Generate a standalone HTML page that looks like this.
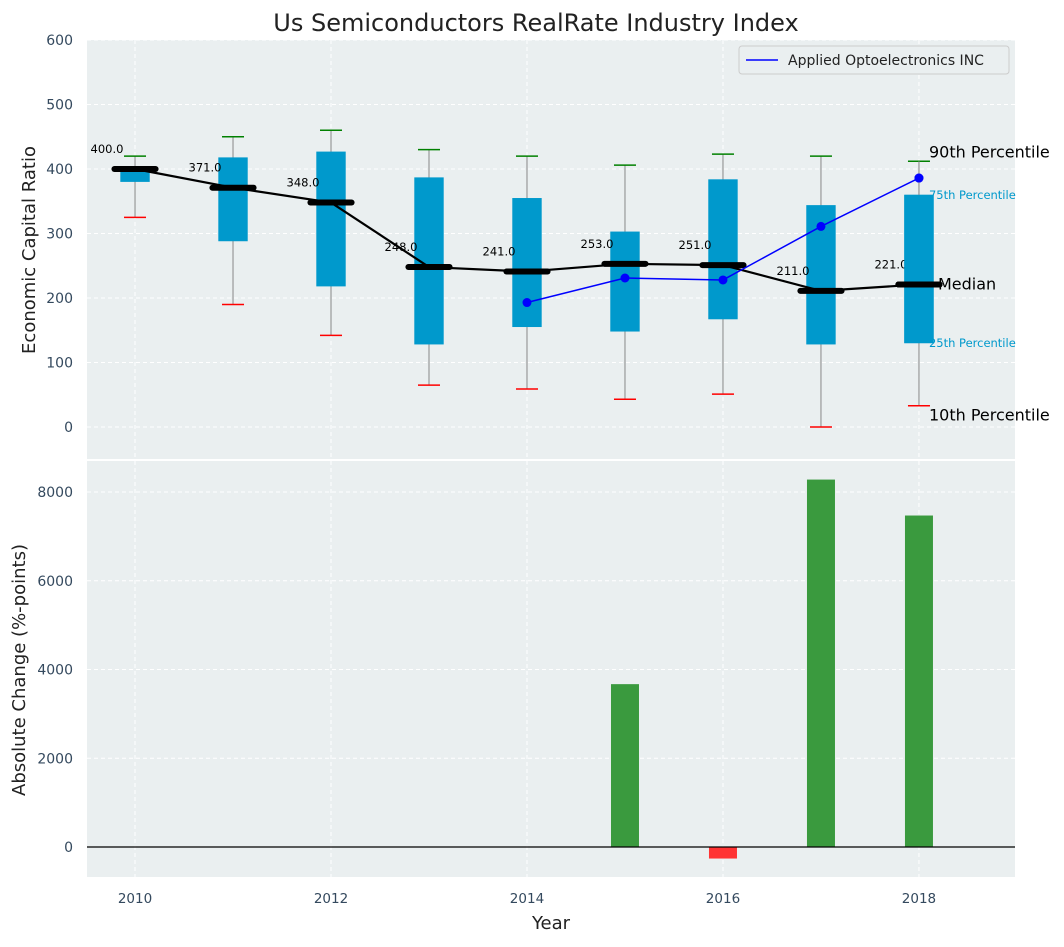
<!DOCTYPE html>
<html><head><meta charset="utf-8"><style>
body{margin:0;background:#fff;font-family:"Liberation Sans","DejaVu Sans",sans-serif}
</style></head><body>
<svg id="c" width="1064" height="942" xmlns="http://www.w3.org/2000/svg" font-family="DejaVu Sans, Liberation Sans, sans-serif"></svg>
<script>
const years=[2010,2011,2012,2013,2014,2015,2016,2017,2018];
const p10=[325,190,142,65,59,43,51,0,33];
const p25=[380,288,218,128,155,148,167,128,130];
const median=[400,371,348,248,241,253,251,211,221];
const p75=[400,418,427,387,355,303,384,344,360];
const p90=[420,450,460,430,420,406,423,420,412];
const company=[null,null,null,null,193,231,228,311,386];
const changeValues=[0,0,0,0,0,3670,-260,8280,7470];
const topTicks=[0,100,200,300,400,500,600];
const bottomTicks=[0,2000,4000,6000,8000];
const xTicks=[2010,2012,2014,2016,2018];

const svg=document.getElementById('c');
const NS='http://www.w3.org/2000/svg';
function el(t,a,parent){const e=document.createElementNS(NS,t);for(const k in a)e.setAttribute(k,a[k]);(parent||svg).appendChild(e);return e;}
const L=87,R=1015;
const x=v=>L+(v-2009.51)/(2018.98-2009.51)*(R-L);
const yT=v=>427-v*(387/600);
const yB=v=>847-v*(355/8000);

let e=el('rect',{x:L,y:40,width:R-L,height:419,fill:'#eaeff0'});


e=el('rect',{x:L,y:461,width:R-L,height:416,fill:'#eaeff0'});


xTicks.forEach(t=>{
 el('line',{x1:x(t),x2:x(t),y1:40,y2:459,stroke:'#fff','stroke-dasharray':'4,3'});
 el('line',{x1:x(t),x2:x(t),y1:461,y2:877,stroke:'#fff','stroke-dasharray':'4,3'});
 e=el('text',{x:x(t),y:903,'text-anchor':'middle','font-size':13.5,fill:'#34495e'});e.textContent=t;
 
 
});
topTicks.forEach(t=>{
 el('line',{x1:L,x2:R,y1:yT(t),y2:yT(t),stroke:'#fff','stroke-dasharray':'4,3'});
 e=el('text',{x:73,y:yT(t)+5,'text-anchor':'end','font-size':14,fill:'#34495e'});e.textContent=t;
 
 
});
bottomTicks.forEach(t=>{
 el('line',{x1:L,x2:R,y1:yB(t),y2:yB(t),stroke:'#fff','stroke-dasharray':'4,3'});
 e=el('text',{x:73,y:yB(t)+5,'text-anchor':'end','font-size':14,fill:'#34495e'});e.textContent=t;
 
 
});
const bw=0.3*98, mw=0.42*98, cw=22;
years.forEach((yr,i)=>{
 const cx=x(yr);
 el('line',{x1:cx,x2:cx,y1:yT(p90[i]),y2:yT(p10[i]),stroke:'#888','stroke-width':1});
 e=el('rect',{x:cx-bw/2,y:yT(p75[i]),width:bw,height:yT(p25[i])-yT(p75[i]),fill:'#0099cc'});
 
 
 el('line',{x1:cx-cw/2,x2:cx+cw/2,y1:yT(p90[i]),y2:yT(p90[i]),stroke:'green','stroke-width':1.5});
 el('line',{x1:cx-cw/2,x2:cx+cw/2,y1:yT(p10[i]),y2:yT(p10[i]),stroke:'red','stroke-width':1.5});
});
el('polyline',{points:years.map((yr,i)=>x(yr)+','+yT(median[i])).join(' '),fill:'none',stroke:'#000','stroke-width':2.2});
years.forEach((yr,i)=>{
 const cx=x(yr);
 e=el('line',{x1:cx-mw/2,x2:cx+mw/2,y1:yT(median[i]),y2:yT(median[i]),stroke:'#000','stroke-width':6,'stroke-linecap':'round'});
 
 
 e=el('text',{x:cx-28,y:yT(median[i])-16,'text-anchor':'middle','font-size':11.5,fill:'#000'});e.textContent=median[i].toFixed(1);
 
 
});
const pts=[];years.forEach((yr,i)=>{if(company[i]!==null)pts.push([x(yr),yT(company[i])]);});
e=el('polyline',{points:pts.map(p=>p.join(',')).join(' '),fill:'none',stroke:'blue','stroke-width':1.5});


pts.forEach(p=>{e=el('circle',{cx:p[0],cy:p[1],r:4.5,fill:'blue'});
 
 });
const lx=x(2018);
[['90th Percentile',p90[8],16,'#000',10,-4],['75th Percentile',p75[8],11.5,'#0099cc',10,4],['Median',median[8],16,'#000',19,5],['25th Percentile',p25[8],11.5,'#0099cc',10,4],['10th Percentile',p10[8],16,'#000',10,15]].forEach(a=>{
 e=el('text',{x:lx+a[4],y:yT(a[1])+a[5],'font-size':a[2],fill:a[3]});e.textContent=a[0];
 
 
});
el('rect',{x:lx-bw/2,y:yT(p75[8]),width:bw,height:yT(p25[8])-yT(p75[8]),fill:'#0099cc'});
el('line',{x1:lx,x2:lx,y1:yT(p90[8]),y2:yT(p75[8]),stroke:'#888','stroke-width':1});
el('line',{x1:lx-mw/2,x2:lx+mw/2,y1:yT(median[8]),y2:yT(median[8]),stroke:'#000','stroke-width':6,'stroke-linecap':'round'});
el('circle',{cx:lx,cy:yT(company[8]),r:4.5,fill:'blue'});
years.forEach((yr,i)=>{
 const v=changeValues[i];if(!v)return;
 const y0=yB(0),y1=yB(v);
 e=el('rect',{x:x(yr)-14,y:Math.min(y0,y1),width:28,height:Math.abs(y1-y0),fill:v>0?'#3a9a3e':'#ff3333'});
 
 
});
el('line',{x1:L,x2:R,y1:yB(0),y2:yB(0),stroke:'#000','stroke-width':1.2});
e=el('g',{});
el('rect',{x:739,y:46,width:270,height:28,rx:3,fill:'#eaeff0',stroke:'#ccc'},e);
el('line',{x1:746,x2:778,y1:60,y2:60,stroke:'blue','stroke-width':1.5},e);
let t=el('text',{x:788,y:65,'font-size':14,fill:'#222'},e);t.textContent='Applied Optoelectronics INC';
e=el('text',{x:536,y:31,'text-anchor':'middle','font-size':24,fill:'#222'});e.textContent='Us Semiconductors RealRate Industry Index';

e=el('text',{x:0,y:0,'text-anchor':'middle','font-size':18,fill:'#222',transform:'translate(35,250) rotate(-90)'});e.textContent='Economic Capital Ratio';

e=el('text',{x:0,y:0,'text-anchor':'middle','font-size':18,fill:'#222',transform:'translate(25,670) rotate(-90)'});e.textContent='Absolute Change (%-points)';

e=el('text',{x:551,y:929,'text-anchor':'middle','font-size':18,fill:'#222'});e.textContent='Year';

</script>
</body></html>
